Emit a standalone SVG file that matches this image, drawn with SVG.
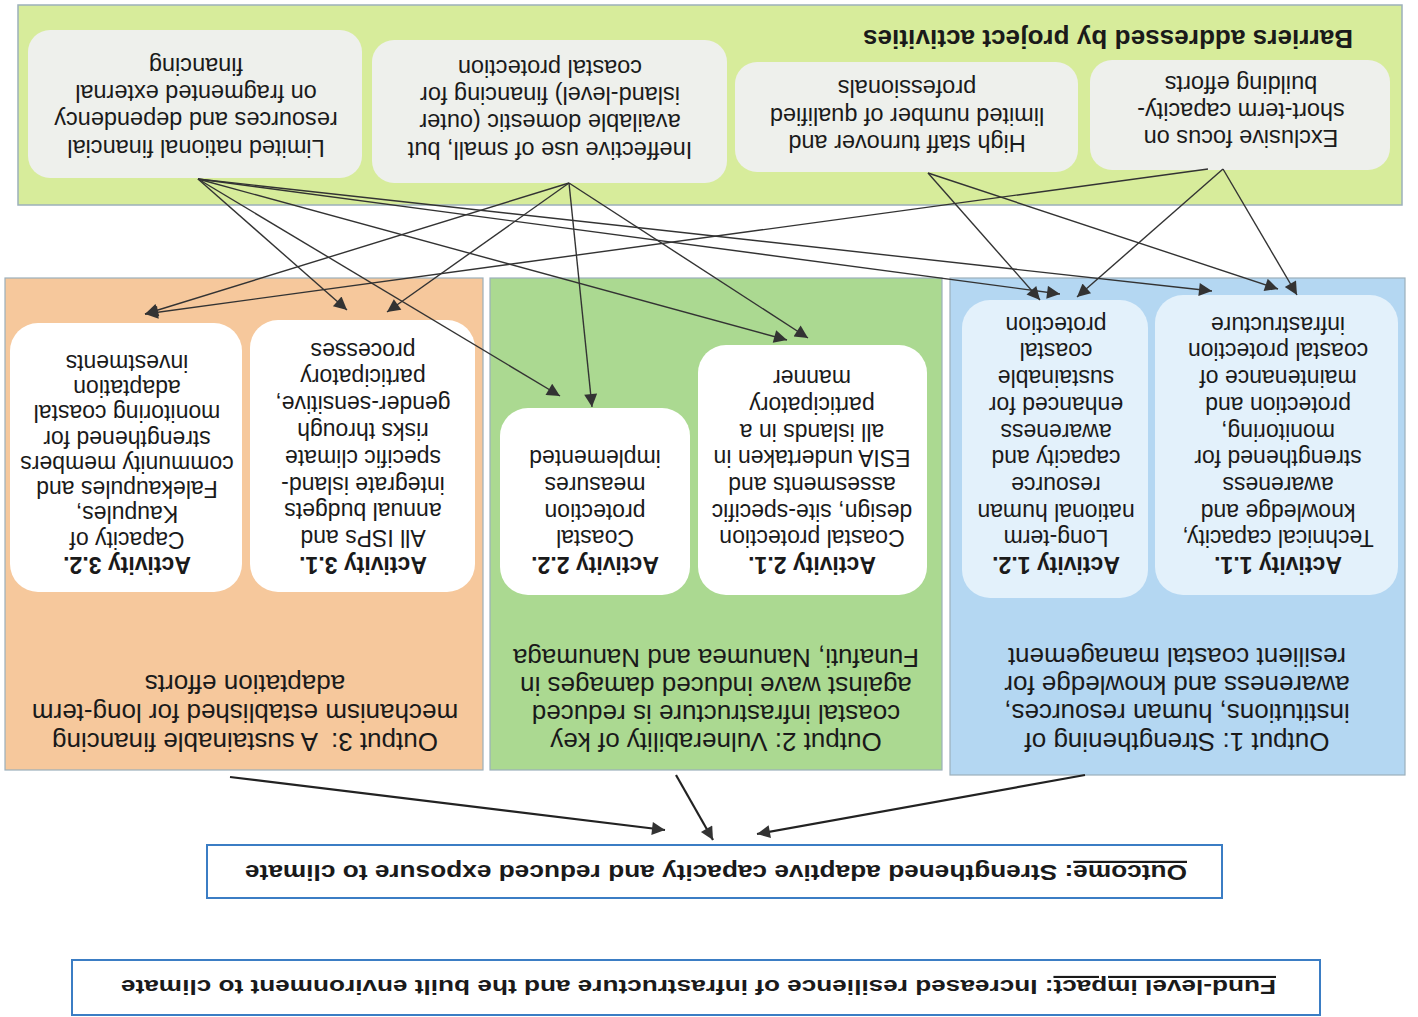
<svg xmlns="http://www.w3.org/2000/svg" width="1418" height="1017" viewBox="0 0 1418 1017">
<defs>
<style>
.t{font-family:"Liberation Sans",Arial,sans-serif;fill:#1a1a1a}
.band{fill:#d7ec9b;stroke:#9cb0bb;stroke-width:1.5}
.bar{fill:#eef0ec}
.p1{fill:#b4d7f2;stroke:#9cb0bb;stroke-width:1.2}
.p2{fill:#abd991;stroke:#9cb0bb;stroke-width:1.2}
.p3{fill:#f6c89c;stroke:#9cb0bb;stroke-width:1.2}
.act{fill:#ffffff}
.act1{fill:#e3f1fb}
.bt{font-size:23.5px;text-anchor:middle}
.at{font-size:23px;text-anchor:middle}
.ot{font-size:26px;text-anchor:middle}
.b{font-weight:bold}
.box{fill:#ffffff;stroke:#3b7dc4;stroke-width:2}
.c{stroke:#333;stroke-width:1.4;fill:none;marker-end:url(#ah)}
.c2{stroke:#222;stroke-width:2.2;fill:none;marker-end:url(#ah)}
</style>
<marker id="ah" viewBox="0 0 10 10" refX="10" refY="5" markerWidth="17" markerHeight="13" markerUnits="userSpaceOnUse" orient="auto">
<path d="M0,0 L10,5 L0,10 z" fill="#333"/>
</marker>
</defs>
<rect x="0" y="0" width="1418" height="1017" fill="#ffffff"/>
<g transform="rotate(180 709 508.5)">

<g id="barriers-band">
<rect class="band" x="16" y="812" width="1384" height="200"/>
<text class="t b" x="65" y="987" font-size="26" textLength="490">Barriers addressed by project activities</text>
</g>

<g id="barrier1">
<rect class="bar" x="28" y="847" width="300" height="110" rx="22"/>
<text class="t bt"><tspan x="177" y="887">Exclusive focus on</tspan><tspan x="177" y="914">short-term capacity-</tspan><tspan x="177" y="941">building efforts</tspan></text>
</g>
<g id="barrier2">
<rect class="bar" x="340" y="845" width="343" height="110" rx="22"/>
<text class="t bt"><tspan x="511" y="882">High staff turnover and</tspan><tspan x="511" y="909">limited number of qualified</tspan><tspan x="511" y="937">professionals</tspan></text>
</g>
<g id="barrier3">
<rect class="bar" x="691" y="834" width="355" height="143" rx="22"/>
<text class="t bt"><tspan x="868" y="875">Ineffective use of small, but</tspan><tspan x="868" y="903">available domestic (outer</tspan><tspan x="868" y="930">island-level) financing for</tspan><tspan x="868" y="957">coastal protection</tspan></text>
</g>
<g id="barrier4">
<rect class="bar" x="1056" y="839" width="334" height="148" rx="22"/>
<text class="t bt"><tspan x="1222" y="877">Limited national financial</tspan><tspan x="1222" y="905">resources and dependency</tspan><tspan x="1222" y="932">on fragmented external</tspan><tspan x="1222" y="959">financing</tspan></text>
</g>

<g id="output1">
<rect class="p1" x="13" y="242" width="455" height="497"/>
<text class="t ot"><tspan x="241" y="284">Output 1: Strengthening of</tspan><tspan x="241" y="313">institutions, human resources,</tspan><tspan x="241" y="341">awareness and knowledge for</tspan><tspan x="241" y="369">resilient coastal management</tspan></text>
</g>
<g id="output2">
<rect class="p2" x="476" y="247" width="452" height="492"/>
<text class="t ot"><tspan x="702" y="284">Output 2: Vulnerability of key</tspan><tspan x="702" y="312">coastal infrastructure is reduced</tspan><tspan x="702" y="340">against wave induced damages in</tspan><tspan x="702" y="368">Funafuti, Nanumea and Nanumaga</tspan></text>
</g>
<g id="output3">
<rect class="p3" x="935" y="247" width="478" height="492"/>
<text class="t ot" xml:space="preserve"><tspan x="1173" y="284">Output 3:  A sustainable financing</tspan><tspan x="1173" y="313">mechanism established for long-term</tspan><tspan x="1173" y="342">adaptation efforts</tspan></text>
</g>

<g id="activity1-1">
<rect class="act1" x="20" y="422" width="243" height="300" rx="28"/>
<text class="t at"><tspan class="b" x="140" y="460">Activity 1.1.</tspan><tspan x="140" y="486.7">Technical capacity,</tspan><tspan x="140" y="513.4">knowledge and</tspan><tspan x="140" y="540.1">awareness</tspan><tspan x="140" y="566.8">strengthened for</tspan><tspan x="140" y="593.5">monitoring,</tspan><tspan x="140" y="620.2">protection and</tspan><tspan x="140" y="646.9">maintenance of</tspan><tspan x="140" y="673.6">coastal protection</tspan><tspan x="140" y="700.3">infrastructure</tspan></text>
</g>
<g id="activity1-2">
<rect class="act1" x="270" y="419" width="186" height="298" rx="28"/>
<text class="t at"><tspan class="b" x="362" y="460">Activity 1.2.</tspan><tspan x="362" y="486.7">Long-term</tspan><tspan x="362" y="513.4">national human</tspan><tspan x="362" y="540.1">resource</tspan><tspan x="362" y="566.8">capacity and</tspan><tspan x="362" y="593.5">awareness</tspan><tspan x="362" y="620.2">enhanced for</tspan><tspan x="362" y="646.9">sustainable</tspan><tspan x="362" y="673.6">coastal</tspan><tspan x="362" y="700.3">protection</tspan></text>
</g>
<g id="activity2-1">
<rect class="act" x="491" y="422" width="229" height="250" rx="28"/>
<text class="t at"><tspan class="b" x="606" y="460">Activity 2.1.</tspan><tspan x="606" y="486.7">Coastal protection</tspan><tspan x="606" y="513.4">design, site-specific</tspan><tspan x="606" y="540.1">assesments and</tspan><tspan x="606" y="566.8">ESIA undertaken in</tspan><tspan x="606" y="593.5">all islands in a</tspan><tspan x="606" y="620.2">participatory</tspan><tspan x="606" y="646.9">manner</tspan></text>
</g>
<g id="activity2-2">
<rect class="act" x="728" y="422" width="190" height="187" rx="28"/>
<text class="t at"><tspan class="b" x="823" y="460">Activity 2.2.</tspan><tspan x="823" y="486.7">Coastal</tspan><tspan x="823" y="513.4">protection</tspan><tspan x="823" y="540.1">measures</tspan><tspan x="823" y="566.8">implemented</tspan></text>
</g>
<g id="activity3-1">
<rect class="act" x="943" y="425" width="225" height="272" rx="28"/>
<text class="t at"><tspan class="b" x="1055" y="460">Activity 3.1.</tspan><tspan x="1055" y="486.8">All ISPs and</tspan><tspan x="1055" y="513.6">annual budgets</tspan><tspan x="1055" y="540.4">integrate island-</tspan><tspan x="1055" y="567.2">specific climate</tspan><tspan x="1055" y="594">risks through</tspan><tspan x="1055" y="620.8">gender-sensitive,</tspan><tspan x="1055" y="647.6">participatory</tspan><tspan x="1055" y="674.4">processes</tspan></text>
</g>
<g id="activity3-2">
<rect class="act" x="1176" y="425" width="232" height="269" rx="28"/>
<text class="t at"><tspan class="b" x="1291" y="460">Activity 3.2.</tspan><tspan x="1291" y="485.3">Capacity of</tspan><tspan x="1291" y="510.6">Kaupules,</tspan><tspan x="1291" y="535.9">Falekaupules and</tspan><tspan x="1291" y="561.2">community members</tspan><tspan x="1291" y="586.5">strengthened for</tspan><tspan x="1291" y="611.8">monitoring coastal</tspan><tspan x="1291" y="637.1">adaptation</tspan><tspan x="1291" y="662.4">investments</tspan></text>
</g>

<g id="outcome">
<rect class="box" x="196" y="119" width="1015" height="53"/>
<text class="t b" x="231" y="152" font-size="22" textLength="942" lengthAdjust="spacingAndGlyphs"><tspan text-decoration="underline">Outcome</tspan>: Strengthened adaptive capacity and reduced exposure to climate</text>
</g>
<g id="impact">
<rect class="box" x="98" y="2" width="1248" height="55"/>
<text class="t b" x="142" y="37" font-size="21" textLength="1155" lengthAdjust="spacingAndGlyphs"><tspan text-decoration="underline">Fund-level impact</tspan>: Increased resilience of infrastructure and the built environment to climate</text>
</g>

<g id="connectors">
<line class="c" x1="1220" y1="838" x2="1071" y2="707"/>
<line class="c" x1="1220" y1="838" x2="858" y2="621"/>
<line class="c" x1="1220" y1="838" x2="631" y2="677"/>
<line class="c" x1="1220" y1="838" x2="358" y2="723"/>
<line class="c" x1="1220" y1="838" x2="206" y2="726"/>
<line class="c" x1="849" y1="834" x2="1273" y2="703"/>
<line class="c" x1="849" y1="834" x2="1031" y2="705"/>
<line class="c" x1="849" y1="834" x2="826" y2="610"/>
<line class="c" x1="849" y1="834" x2="610" y2="679"/>
<line class="c" x1="490" y1="844" x2="378" y2="717"/>
<line class="c" x1="490" y1="844" x2="140" y2="728"/>
<line class="c" x1="195" y1="848" x2="341" y2="720"/>
<line class="c" x1="195" y1="848" x2="121" y2="722"/>
<line class="c" x1="210" y1="848" x2="1273" y2="703"/>
<line class="c2" x1="333" y1="242" x2="661" y2="183"/>
<line class="c2" x1="742" y1="242" x2="705" y2="177"/>
<line class="c2" x1="1188" y1="240" x2="753" y2="187"/>
</g>
</g>
</svg>
